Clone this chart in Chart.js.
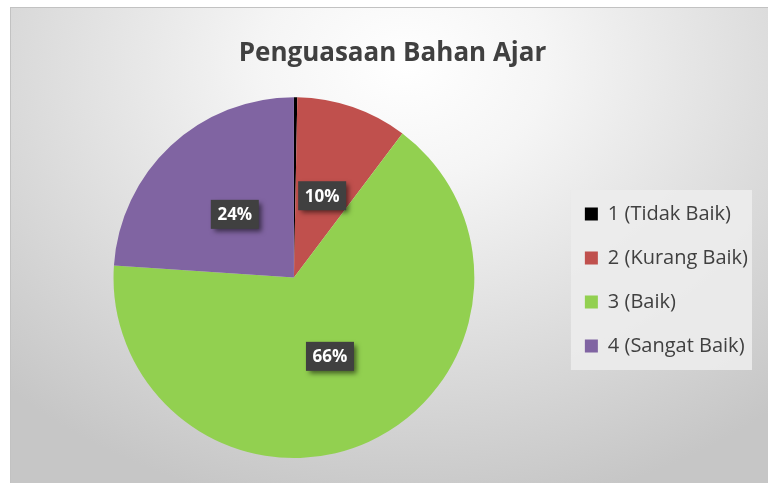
<!DOCTYPE html>
<html>
<head>
<meta charset="utf-8">
<script src="https://cdn.jsdelivr.net/npm/chart.js@4/dist/chart.umd.min.js"></script>
<style>
  html, body { margin: 0; padding: 0; background: #fff; }
  #frame {
    position: absolute; left: 10px; top: 7px; width: 758px; height: 476px;
    border-left: 1px solid #c2c2c2; border-top: 1px solid #c2c2c2;
    background: radial-gradient(ellipse 75% 95% at 52% 12%, #ffffff 0%, #f5f5f5 25%, #dcdcdc 65%, #c6c6c6 100%);
  }
  #wrap { position: absolute; left: 0; top: 0; width: 768px; height: 483px; }
</style>
</head>
<body>
<div id="frame"></div>
<div id="wrap"><canvas id="myChart" width="768" height="483"></canvas></div>
<script>
var titleText = 'Penguasaan Bahan Ajar';
var labels = ['1 (Tidak Baik)', '2 (Kurang Baik)', '3 (Baik)', '4 (Sangat Baik)'];
var values = [0.3, 10, 66, 24];
var colors = ['#000000', '#C0504D', '#92D050', '#8064A2'];

// grey box behind the legend
var legendBox = {
  id: 'legendBox',
  beforeDraw: function (chart) {
    var boxes = chart.legend.legendHitBoxes;
    if (!boxes || !boxes.length) return;
    var l = 1e9, r = 0, t = 1e9, b = 0;
    boxes.forEach(function (h) {
      l = Math.min(l, h.left); r = Math.max(r, h.left + h.width);
      t = Math.min(t, h.top); b = Math.max(b, h.top + h.height);
    });
    var ctx = chart.ctx;
    ctx.save();
    ctx.fillStyle = 'rgba(236,236,236,0.9)';
    ctx.fillRect(l - 14, t - 14, r - l + 18, b - t + 28);
    ctx.restore();
  }
};

// dark percentage callouts
var pctLabels = {
  id: 'pctLabels',
  afterDatasetsDraw: function (chart) {
    var ctx = chart.ctx;
    var meta = chart.getDatasetMeta(0);
    var total = values.reduce(function (a, b) { return a + b; }, 0);
    meta.data.forEach(function (arc, i) {
      if (values[i] < 1) return;
      var p = arc.getProps(['x', 'y', 'startAngle', 'endAngle', 'outerRadius'], true);
      var mid = (p.startAngle + p.endAngle) / 2;
      var rr = p.outerRadius * 0.48;
      var x = p.x + Math.cos(mid) * rr;
      var y = p.y + Math.sin(mid) * rr;
      var txt = Math.round(values[i] / total * 100) + '%';
      var w = 48, h = 29;
      ctx.save();
      ctx.shadowColor = 'rgba(0,0,0,0.55)';
      ctx.shadowBlur = 5;
      ctx.shadowOffsetX = 3;
      ctx.shadowOffsetY = 3;
      ctx.fillStyle = '#404040';
      ctx.fillRect(x - w / 2, y - h / 2, w, h);
      ctx.restore();
      ctx.save();
      ctx.fillStyle = '#ffffff';
      ctx.font = 'bold 17px "Open Sans", sans-serif';
      ctx.textAlign = 'center';
      ctx.textBaseline = 'middle';
      ctx.fillText(txt, x, y + 1);
      ctx.restore();
    });
  }
};

const config = {
  type: 'pie',
  data: {
    labels: labels,
    datasets: [{
      data: values,
      backgroundColor: colors,
      borderWidth: 0
    }]
  },
  options: {
    responsive: false,
    animation: false,
    layout: { padding: { left: 27, top: 0, bottom: 25, right: 10 } },
    plugins: {
      title: {
        display: true,
        text: titleText,
        color: '#404040',
        font: { family: '"Open Sans", sans-serif', size: 26, weight: 'bold' },
        padding: { top: 38, bottom: 28 }
      },
      legend: {
        position: 'right',
        title: { display: true, text: ' ', font: { size: 10 }, padding: { top: 0, bottom: 90 } },
        labels: {
          boxWidth: 13,
          boxHeight: 13,
          padding: 24,
          color: '#404040',
          font: { family: '"Open Sans", sans-serif', size: 20 }
        }
      },
      tooltip: { enabled: false }
    }
  },
  plugins: [legendBox, pctLabels]
};

var myChart = new Chart(document.getElementById('myChart'), config);
</script>
</body>
</html>
